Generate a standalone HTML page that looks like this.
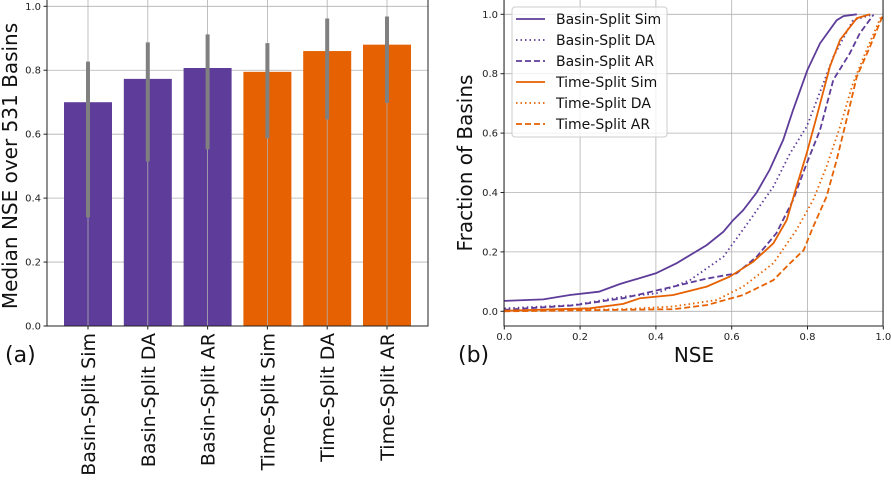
<!DOCTYPE html>
<html><head><meta charset="utf-8"><style>
body{margin:0;background:#fff}
svg{display:block;font-family:"DejaVu Sans","Liberation Sans",sans-serif}
</style></head><body>
<svg id="fig" width="891" height="483" viewBox="0 0 891 483">
<g id="left"></g>
<g id="right"></g>
</svg>
<script>
const barCategories=["Basin-Split Sim","Basin-Split DA","Basin-Split AR","Time-Split Sim","Time-Split DA","Time-Split AR"];
const barValues=[0.70,0.773,0.807,0.795,0.86,0.88];
const errLow=[0.34,0.515,0.553,0.587,0.646,0.698];
const errHigh=[0.827,0.887,0.912,0.885,0.962,0.968];
const barColorsByGroup=["#5e3c99","#5e3c99","#5e3c99","#e66101","#e66101","#e66101"];
const yTicks=[0,0.2,0.4,0.6,0.8,1.0];
const xTicksB=[0,0.2,0.4,0.6,0.8,1.0];
const seriesNames=["Basin-Split Sim","Basin-Split DA","Basin-Split AR","Time-Split Sim","Time-Split DA","Time-Split AR"];
const bsSimX=[0,0.103,0.173,0.25,0.305,0.40,0.455,0.534,0.578,0.604,0.63,0.666,0.70,0.736,0.762,0.80,0.833,0.877,0.895,0.93];
const bsSimY=[0.035,0.04,0.055,0.066,0.092,0.128,0.162,0.223,0.268,0.307,0.34,0.40,0.476,0.577,0.678,0.813,0.902,0.98,0.994,1.0];
const bsDaX=[0,0.182,0.314,0.40,0.49,0.578,0.648,0.71,0.754,0.798,0.842,0.868,0.92,0.974];
const bsDaY=[0.01,0.021,0.049,0.06,0.105,0.184,0.307,0.42,0.532,0.622,0.768,0.857,0.98,1.0];
const bsArX=[0,0.182,0.314,0.446,0.534,0.613,0.666,0.718,0.762,0.798,0.833,0.868,0.912,0.938,0.974];
const bsArY=[0.005,0.02,0.044,0.083,0.11,0.128,0.184,0.263,0.375,0.498,0.61,0.779,0.869,0.936,0.998];
const tsSimX=[0,0.226,0.314,0.358,0.446,0.534,0.595,0.657,0.71,0.745,0.771,0.798,0.824,0.859,0.886,0.93,0.965];
const tsSimY=[0.002,0.01,0.025,0.044,0.055,0.083,0.117,0.167,0.229,0.307,0.42,0.532,0.655,0.824,0.914,0.987,1.0];
const tsDaX=[0,0.314,0.446,0.56,0.63,0.71,0.771,0.815,0.85,0.886,0.92,0.956,0.996];
const tsDaY=[0.002,0.007,0.016,0.038,0.083,0.162,0.274,0.375,0.487,0.622,0.768,0.88,0.998];
const tsArX=[0,0.446,0.534,0.63,0.71,0.754,0.79,0.815,0.85,0.877,0.903,0.93,0.965,1.0];
const tsArY=[0,0.007,0.021,0.055,0.105,0.162,0.206,0.285,0.386,0.51,0.644,0.79,0.891,1.0];

const NS="http://www.w3.org/2000/svg";
function mk(p,t,a,txt){const e=document.createElementNS(NS,t);for(const k in a)e.setAttribute(k,a[k]);if(txt!==undefined)e.textContent=txt;p.appendChild(e);return e;}

// LEFT
const L=document.getElementById('left');
const lx0=47,lx1=428,ly0=326,ly1=6.3;
const ly=v=>ly0+(ly1-ly0)*v;
const lxc=i=>88+i*59.8;
mk(L,'rect',{x:lx0,y:0,width:lx1-lx0,height:ly0,fill:'#fff'});
let gl=mk(L,'g',{});
yTicks.forEach(v=>{mk(gl,'line',{x1:lx0,x2:lx1,y1:ly(v),y2:ly(v),stroke:'#b0b0b0','stroke-width':0.8});});
barValues.forEach((v,i)=>{
 const r=mk(L,'rect',{x:lxc(i)-24,y:ly(v),width:48,height:ly0-ly(v),fill:barColorsByGroup[i]});
 
 
});
barValues.forEach((v,i)=>{mk(L,'line',{x1:lxc(i),x2:lxc(i),y1:0,y2:ly0,stroke:'#b0b0b0','stroke-width':0.8});});
barValues.forEach((v,i)=>{
 const e=mk(L,'line',{x1:lxc(i),x2:lxc(i),y1:ly(errLow[i]),y2:ly(errHigh[i]),stroke:'#808080','stroke-width':4});
 
 
});
mk(L,'rect',{x:lx0,y:-1,width:lx1-lx0,height:ly0+1,fill:'none',stroke:'#222','stroke-width':1});
yTicks.forEach(v=>{mk(L,'line',{x1:lx0-3.5,x2:lx0,y1:ly(v),y2:ly(v),stroke:'#222'});
 const t=mk(L,'text',{x:lx0-6,y:ly(v)+3.5,'text-anchor':'end','font-size':10,fill:'#222'},v.toFixed(1));
 });
barCategories.forEach((c,i)=>{mk(L,'line',{x1:lxc(i),x2:lxc(i),y1:ly0,y2:ly0+3.5,stroke:'#222'});
 const t=mk(L,'text',{transform:`translate(${lxc(i)+7},333) rotate(-90)`,'text-anchor':'end','font-size':19,fill:'#111'},c);
 });
let yl=mk(L,'text',{transform:'translate(17,166) rotate(-90)','text-anchor':'middle','font-size':20,fill:'#111'},'Median NSE over 531 Basins');

let pa=mk(L,'text',{x:5,y:362,'font-size':22,fill:'#111'},'(a)');


// RIGHT
const R=document.getElementById('right');
const rx=v=>504.3+379*v;
const ry=v=>311.3-297*v;
const rb=326;
mk(R,'rect',{x:504,y:0,width:379,height:rb,fill:'#fff'});
let gr=mk(R,'g',{});
yTicks.forEach(v=>mk(gr,'line',{x1:504,x2:883,y1:ry(v),y2:ry(v),stroke:'#b0b0b0','stroke-width':0.8}));
xTicksB.forEach(v=>mk(gr,'line',{x1:rx(v),x2:rx(v),y1:0,y2:rb,stroke:'#b0b0b0','stroke-width':0.8}));
const series=[[bsSimX,bsSimY,'#5e3c99',''],[bsDaX,bsDaY,'#5e3c99','1.5 3'],[bsArX,bsArY,'#5e3c99','6 3'],
 [tsSimX,tsSimY,'#e66101',''],[tsDaX,tsDaY,'#e66101','1.5 3'],[tsArX,tsArY,'#e66101','6 3']];
series.forEach((s,k)=>{
 const d=s[0].map((x,j)=>(j?'L':'M')+rx(x).toFixed(1)+','+ry(s[1][j]).toFixed(1)).join('');
 const a={d:d,fill:'none',stroke:s[2],'stroke-width':1.8};if(s[3])a['stroke-dasharray']=s[3];
 const p=mk(R,'path',a);
 
 
});
mk(R,'rect',{x:504,y:-1,width:379,height:rb+1,fill:'none',stroke:'#222','stroke-width':1});
yTicks.forEach(v=>{mk(R,'line',{x1:500.5,x2:504,y1:ry(v),y2:ry(v),stroke:'#222'});
 const t=mk(R,'text',{x:498,y:ry(v)+3.5,'text-anchor':'end','font-size':10,fill:'#222'},v.toFixed(1));
 });
xTicksB.forEach(v=>{mk(R,'line',{x1:rx(v),x2:rx(v),y1:rb,y2:rb+3.5,stroke:'#222'});
 const t=mk(R,'text',{x:rx(v),y:rb+14,'text-anchor':'middle','font-size':10,fill:'#222'},v.toFixed(1));
 });
let lg=mk(R,'g',{});
mk(lg,'rect',{x:512,y:7,width:155,height:130,rx:3,fill:'#fff','fill-opacity':0.8,stroke:'#ccc'});
series.forEach((s,k)=>{const yy=19+k*21;
 const a={x1:516,x2:545,y1:yy,y2:yy,stroke:s[2],'stroke-width':1.8};if(s[3])a['stroke-dasharray']=s[3];
 mk(lg,'line',a);
 const t=mk(lg,'text',{x:556,y:yy+5,'font-size':14,fill:'#111'},seriesNames[k]);
 });
let xl=mk(R,'text',{x:694,y:362,'text-anchor':'middle','font-size':20,fill:'#111'},'NSE');

let yr=mk(R,'text',{transform:'translate(472,163) rotate(-90)','text-anchor':'middle','font-size':20,fill:'#111'},'Fraction of Basins');

let pb=mk(R,'text',{x:458,y:362,'font-size':22,fill:'#111'},'(b)');

</script>
</body></html>
